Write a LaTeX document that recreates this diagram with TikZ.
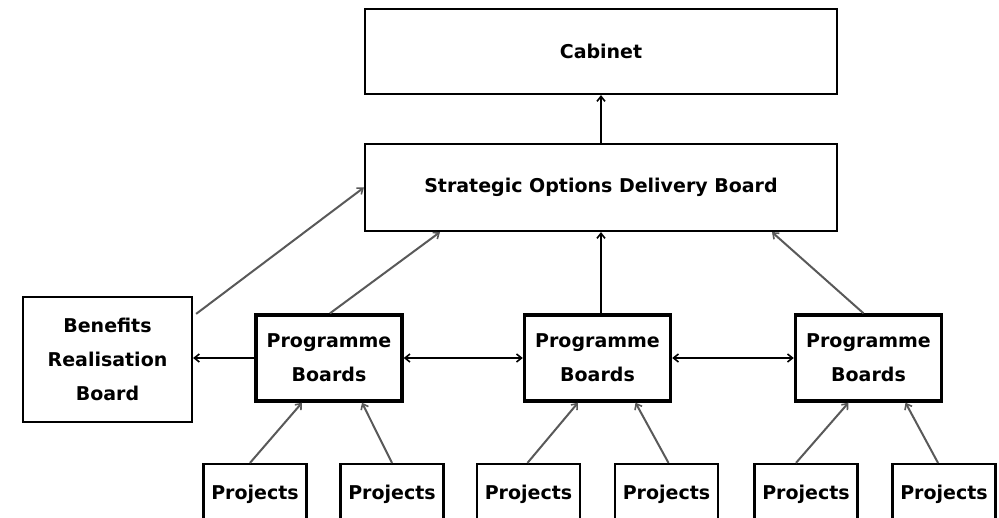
\documentclass[tikz,border=0pt]{standalone}
\usepackage{fontspec}
\setmainfont{DejaVu Sans}
\usetikzlibrary{arrows.meta}
\begin{document}
\begin{tikzpicture}[x=1bp,y=-1bp,
  box/.style={draw=black,line width=2.2bp,fill=white,inner sep=0pt,align=center,
    font=\fontsize{19bp}{34bp}\selectfont\bfseries},
  pbox/.style={box,line width=3.4bp,minimum width=146bp,minimum height=86bp},
  projbox/.style={box,minimum width=103bp,minimum height=60bp},
  blk/.style={draw=black,line width=2.6bp},
  gry/.style={draw=black!65,line width=2bp},
  tip/.style={-{Straight Barb[length=5bp,width=8bp,line width=1.6bp]}},
  tips/.style={{Straight Barb[length=5bp,width=8bp,line width=1.6bp]}-{Straight Barb[length=5bp,width=8bp,line width=1.6bp]}}
]
\useasboundingbox (0,0) rectangle (999,518);
\clip (0,0) rectangle (999,518);
\node[box,minimum width=472bp,minimum height=85bp] (cab) at (601,51.5) {Cabinet};
\node[box,minimum width=472bp,minimum height=87bp] (sodb) at (601,187.5) {Strategic Options Delivery Board};
\node[box,minimum width=169bp,minimum height=125bp] (brb) at (107.5,359.5) {Benefits\\Realisation\\Board};
\node[pbox] (pb1) at (329,358) {Programme\\Boards};
\node[pbox] (pb2) at (597.5,358) {Programme\\Boards};
\node[pbox] (pb3) at (868.5,358) {Programme\\Boards};
\node[projbox] (p1) at (255,494) {Projects};
\node[projbox] (p2) at (392,494) {Projects};
\node[projbox] (p3) at (528.5,494) {Projects};
\node[projbox] (p4) at (666.5,494) {Projects};
\node[projbox] (p5) at (806,494) {Projects};
\node[projbox] (p6) at (944,494) {Projects};
% black connectors
\draw[blk,tip] (sodb.north) -- (cab.south);
\draw[blk,tip] (sodb.south |- pb2.north) -- (sodb.south);
\draw[blk,tip] (pb1.west) -- (pb1.west -| brb.east);
\draw[blk,tips] (pb1.east) -- (pb2.west);
\draw[blk,tips] (pb2.east) -- (pb3.west);
% grey connectors
\draw[gry,tip] ([xshift=3bp,yshift=-18bp]brb.north east) -- (sodb.west);
\draw[gry,tip] ([xshift=1bp]pb1.north) -- ([xshift=-161bp]sodb.south);
\draw[gry,tip] ([xshift=-5bp]pb3.north) -- ([xshift=171bp]sodb.south);
\draw[gry,tip] ([xshift=-5bp]p1.north) -- ([xshift=-27bp]pb1.south);
\draw[gry,tip] (p2.north) -- ([xshift=33bp]pb1.south);
\draw[gry,tip] ([xshift=-1bp]p3.north) -- ([xshift=-19.5bp]pb2.south);
\draw[gry,tip] ([xshift=2bp]p4.north) -- ([xshift=38bp]pb2.south);
\draw[gry,tip] ([xshift=-10bp]p5.north) -- ([xshift=-20bp]pb3.south);
\draw[gry,tip] ([xshift=-6bp]p6.north) -- ([xshift=37bp]pb3.south);
\end{tikzpicture}
\end{document}
